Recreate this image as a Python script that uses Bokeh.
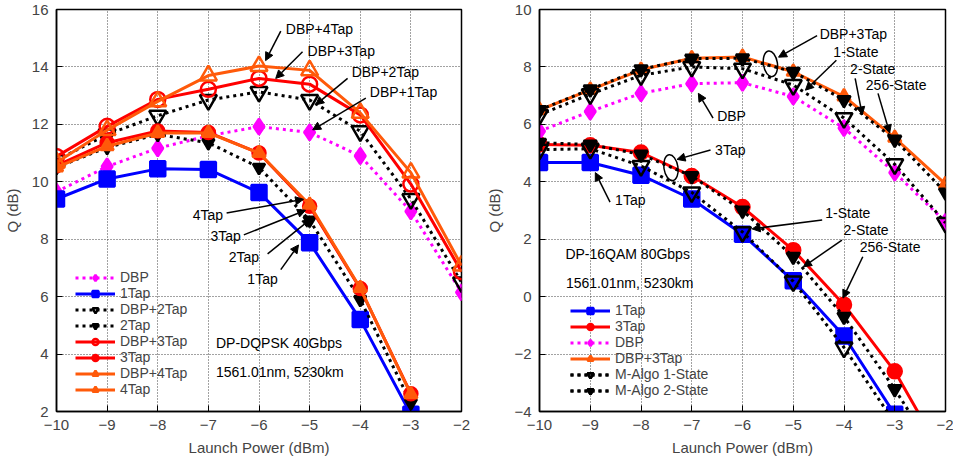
import math
from bokeh.plotting import figure
from bokeh.layouts import row
from bokeh.models import Range1d, FixedTicker, Label, Arrow, NormalHead
from bokeh.embed import file_html
from bokeh.resources import INLINE

NaN = float("nan")
FONT = "Liberation Sans"

# ---------------- data ----------------
power = [-10, -9, -8, -7, -6, -5, -4, -3, -2]
yticks_left = [2, 4, 6, 8, 10, 12, 14, 16]
yticks_right = [-4, -2, 0, 2, 4, 6, 8, 10]

# Left panel: DP-DQPSK 40Gbps
l_dbp = [9.65, 10.53, 11.17, 11.6, 11.92, 11.72, 10.9, 8.97, 6.15]
l_1tap = [9.4, 10.1, 10.45, 10.43, 9.63, 7.88, 5.2, 1.9, NaN]
l_dbp2tap = [10.75, 11.65, 12.3, 12.85, 13.13, 12.85, 11.76, 9.4, 6.5]
l_2tap = [10.5, 11.2, 11.65, 11.36, 10.5, 8.66, 5.9, 2.3, NaN]
l_dbp3tap = [10.88, 11.93, 12.87, 13.22, 13.6, 13.4, 12.33, 9.92, 6.87]
l_3tap = [10.56, 11.36, 11.77, 11.72, 11.0, 9.15, 6.28, 2.62, NaN]
l_dbp4tap = [10.67, 11.8, 12.8, 13.7, 14.03, 13.88, 12.4, 10.32, 7.08]
l_4tap = [10.5, 11.24, 11.7, 11.7, 11.0, 9.2, 6.3, 2.6, NaN]

# Right panel: DP-16QAM 80Gbps
r_1tap = [4.67, 4.67, 4.23, 3.4, 2.17, 0.55, -1.37, -4.1, NaN]
r_3tap = [5.3, 5.27, 5.02, 4.2, 3.12, 1.62, -0.28, -2.6, -5.7]
r_dbp = [5.76, 6.45, 7.08, 7.42, 7.45, 6.97, 5.87, 4.32, 2.6]
r_dbp3tap = [6.5, 7.2, 7.9, 8.3, 8.35, 7.83, 6.97, 5.53, 3.92]
r_dbp_m1 = [6.33, 7.05, 7.71, 8.0, 7.94, 7.37, 6.22, 4.61, 2.57]
r_dbp_m2 = [6.5, 7.22, 7.92, 8.29, 8.3, 7.83, 6.85, 5.47, 3.63]
r_m1 = [5.12, 5.15, 4.55, 3.63, 2.25, 0.53, -1.77, -4.4, NaN]
r_m2 = [5.36, 5.3, 4.95, 4.2, 3.0, 1.39, -0.7, -3.22, -6.0]

# ---------------- styles ----------------
MAGENTA = "#ff00ff"
BLUE = "#0000ff"
BLACK = "#000000"
RED = "#ff0000"
ORANGE = "#ff5a0a"
DOT = "3 4"


def make_fig(ymin, ymax, yticks, frame_w, border_left, border_right):
    p = figure(frame_width=frame_w, frame_height=402, output_backend="svg",
               toolbar_location=None,
               x_range=Range1d(-10, -2), y_range=Range1d(ymin, ymax),
               min_border_left=border_left, min_border_right=border_right,
               min_border_top=9, min_border_bottom=49)
    p.xaxis.ticker = FixedTicker(ticks=power)
    p.yaxis.ticker = FixedTicker(ticks=yticks)
    p.xaxis.axis_label = "Launch Power (dBm)"
    p.yaxis.axis_label = "Q (dB)"
    for ax in (p.xaxis, p.yaxis):
        ax.axis_label_text_font = FONT
        ax.axis_label_text_font_size = "15px"
        ax.axis_label_text_font_style = "normal"
        ax.major_label_text_font = FONT
        ax.major_label_text_font_size = "15px"
        ax.major_tick_in = 6
        ax.major_tick_out = 0
        ax.minor_tick_in = 0
        ax.minor_tick_out = 0
        ax.axis_line_color = BLACK
        ax.axis_line_width = 1.5
        ax.major_tick_line_width = 1
        ax.major_label_standoff = 8
        ax.axis_label_standoff = 8
    p.xaxis.axis_label_standoff = 6
    p.grid.grid_line_color = "#444444"
    p.grid.grid_line_dash = "1 2"
    p.grid.grid_line_width = 1
    p.outline_line_color = BLACK
    p.outline_line_width = 1.5
    p.background_fill_color = "white"
    p.border_fill_color = "white"
    return p


def series(p, y, color, dash, marker, size, filled, label, lw=3):
    p.line(power, y, line_color=color, line_width=lw, line_dash=dash, legend_label=label)
    p.scatter(power, y, marker=marker, size=size, line_color=color,
              fill_color=color, fill_alpha=1.0 if filled else 0.0,
              line_width=2.5, legend_label=label)


def style_legend(p, loc):
    lg = p.legend[0]
    lg.location = loc
    lg.label_text_font = FONT
    lg.label_text_font_size = "14px"
    lg.glyph_width = 40
    lg.glyph_height = 15
    lg.label_height = 15
    lg.spacing = 0
    lg.padding = 0
    lg.margin = 0
    lg.label_standoff = 5
    lg.background_fill_alpha = 0
    lg.border_line_alpha = 0


def add_text(p, x, y, text, align="left"):
    p.add_layout(Label(x=x, y=y, text=text, text_font=FONT, text_font_size="14px",
                       text_align=align, text_baseline="middle", text_color=BLACK))


def add_arrow(p, x0, y0, x1, y1):
    p.add_layout(Arrow(end=NormalHead(size=8, fill_color=BLACK, line_color=BLACK),
                       x_start=x0, y_start=y0, x_end=x1, y_end=y1,
                       line_color=BLACK, line_width=1.5))


# ---------------- left figure ----------------
p1 = make_fig(2, 16, yticks_left, 405, 56, 15)
series(p1, l_dbp, MAGENTA, DOT, "diamond", 16, True, "DBP")
series(p1, l_1tap, BLUE, "solid", "square", 15, True, "1Tap")
series(p1, l_dbp2tap, BLACK, DOT, "inverted_triangle", 17, False, "DBP+2Tap")
series(p1, l_2tap, BLACK, DOT, "inverted_triangle", 12, True, "2Tap")
series(p1, l_dbp3tap, RED, "solid", "circle", 15, False, "DBP+3Tap")
series(p1, l_3tap, RED, "solid", "circle", 13, True, "3Tap")
series(p1, l_dbp4tap, ORANGE, "solid", "triangle", 17, False, "DBP+4Tap")
series(p1, l_4tap, ORANGE, "solid", "triangle", 13, True, "4Tap")
style_legend(p1, (19, 14))

left_notes = [
    ("DBP+4Tap", -5.47, 15.32, "left", (-5.57, 15.25, -5.87, 14.22)),
    ("DBP+3Tap", -5.04, 14.57, "left", (-5.14, 14.53, -5.67, 13.60)),
    ("DBP+2Tap", -4.17, 13.84, "left", (-4.25, 13.60, -4.88, 12.68)),
    ("DBP+1Tap", -3.81, 13.11, "left", (-3.89, 12.91, -4.94, 11.81)),
    ("4Tap", -6.71, 8.84, "right", (-6.64, 8.91, -5.12, 9.39)),
    ("3Tap", -6.36, 8.11, "right", (-6.30, 8.15, -5.08, 9.01)),
    ("2Tap", -6.0, 7.39, "right", (-5.83, 7.49, -4.98, 8.70)),
    ("1Tap", -5.63, 6.63, "right", (-5.57, 6.94, -5.22, 7.80)),
]
for txt, tx, ty, al, arr in left_notes:
    add_text(p1, tx, ty, txt, al)
    add_arrow(p1, *arr)
add_text(p1, -6.85, 4.39, "DP-DQPSK 40Gbps")
add_text(p1, -6.85, 3.37, "1561.01nm, 5230km")

# ---------------- right figure ----------------
p2 = make_fig(-4, 10, yticks_right, 406, 63, 8)
series(p2, r_1tap, BLUE, "solid", "square", 15, True, "1Tap")
series(p2, r_3tap, RED, "solid", "circle", 14, True, "3Tap")
series(p2, r_dbp, MAGENTA, DOT, "diamond", 16, True, "DBP")
series(p2, r_dbp3tap, ORANGE, "solid", "triangle", 13, True, "DBP+3Tap")
series(p2, r_dbp_m1, BLACK, DOT, "inverted_triangle", 17, False, "M-Algo 1-State")
series(p2, r_dbp_m2, BLACK, DOT, "inverted_triangle", 13, True, "M-Algo 2-State")
series(p2, r_m1, BLACK, DOT, "inverted_triangle", 17, False, "M-Algo 1-State")
series(p2, r_m2, BLACK, DOT, "inverted_triangle", 13, True, "M-Algo 2-State")
style_legend(p2, (31, 13))

right_notes = [
    ("DBP+3Tap", -4.48, 9.15, "left", (-4.53, 9.09, -5.29, 8.34)),
    ("1-State", -4.21, 8.52, "left", (-4.15, 8.23, -4.76, 7.19)),
    ("2-State", -3.88, 7.94, "left", (-3.78, 7.60, -3.64, 6.33)),
    ("256-State", -3.57, 7.37, "left", (-3.33, 7.08, -3.10, 5.70)),
    ("DBP", -6.50, 6.29, "left", (-6.58, 6.22, -6.87, 7.08)),
    ("3Tap", -6.54, 5.12, "left", (-6.63, 5.11, -7.29, 4.78)),
    ("1Tap", -8.51, 3.36, "left", (-8.61, 3.29, -8.90, 4.32)),
    ("1-State", -4.37, 2.92, "left", (-4.43, 2.67, -5.81, 2.36)),
    ("2-State", -4.01, 2.31, "left", (-4.04, 1.97, -4.80, 1.04)),
    ("256-State", -3.69, 1.73, "left", (-3.63, 1.39, -4.02, -0.05)),
]
for txt, tx, ty, al, arr in right_notes:
    add_text(p2, tx, ty, txt, al)
    add_arrow(p2, *arr)
add_text(p2, -9.49, 1.48, "DP-16QAM 80Gbps")
add_text(p2, -9.48, 0.47, "1561.01nm, 5230km")

# grouping ellipses
ell_x = [-5.45, -7.41]
ell_y = [8.11, 4.49]
p2.ellipse(x=ell_x, y=ell_y, width=14, height=26, width_units="screen",
           height_units="screen", angle=0.15, fill_alpha=0, line_color=BLACK,
           line_width=1.5)

layout = row(p1, p2)
open("out.html", "w").write(file_html(layout, INLINE))
